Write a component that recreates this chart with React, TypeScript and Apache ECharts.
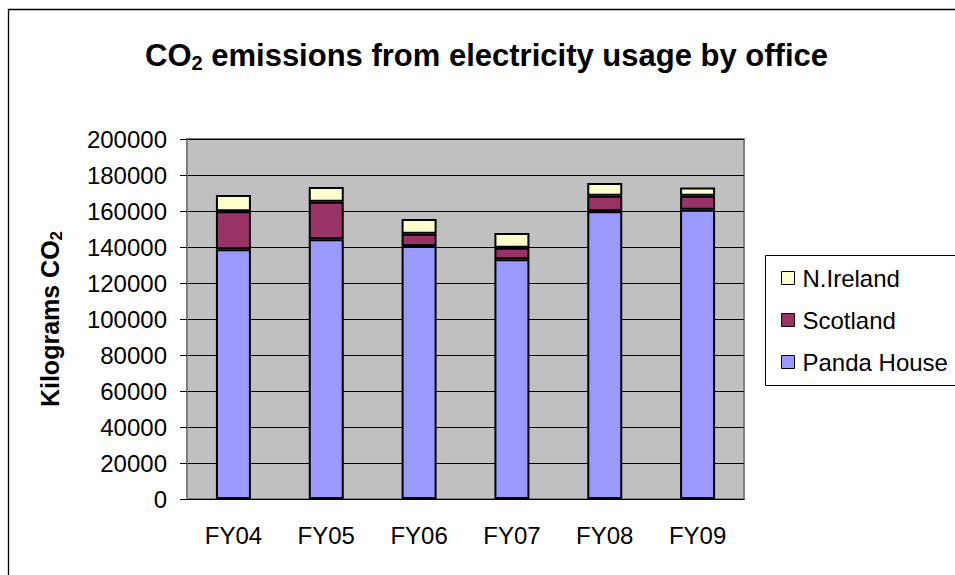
import React, { useEffect, useRef } from "react";
import * as echarts from "echarts";

const categories = ["FY04", "FY05", "FY06", "FY07", "FY08", "FY09"];
const pandaHouse = [138700, 144300, 140600, 133200, 159800, 160700];
const scotland = [21100, 20900, 6800, 6400, 8700, 7800];
const nIreland = [9100, 8100, 8200, 8200, 7100, 4600];
const yMin = 0;
const yMax = 200000;
const yInterval = 20000;

const FONT = "'Liberation Sans', Arial, Helvetica, sans-serif";

export default function App() {
  const ref = useRef<HTMLDivElement>(null);
  useEffect(() => {
    if (!ref.current) return;
    const chart = echarts.init(ref.current, undefined, { renderer: "svg" });
    const barBorder = { borderColor: "#000", borderWidth: 2 };
    chart.setOption({
      animation: false,
      backgroundColor: "#fff",
      textStyle: { fontFamily: FONT },
      title: {
        left: 140,
        top: 32,
        text: "{b|CO}{s|2}{b| emissions from electricity usage by office}",
        textStyle: {
          rich: {
            b: { fontFamily: FONT, fontSize: 31, fontWeight: "bold", color: "#000", lineHeight: 36 },
            s: { fontFamily: FONT, fontSize: 20, fontWeight: "bold", color: "#000", lineHeight: 20, verticalAlign: "bottom" },
          },
        },
      },
      graphic: [
        {
          type: "rect",
          shape: { x: 8.5, y: 9.5, width: 1200, height: 1200 },
          style: { fill: "none", stroke: "#000", lineWidth: 1.3 },
          silent: true,
          z: -1,
        },
        {
          type: "rect",
          shape: { x: 765.5, y: 255.5, width: 300, height: 130 },
          style: { fill: "#fff", stroke: "#000", lineWidth: 1 },
          silent: true,
          z: -1,
        },
      ],
      legend: {
        orient: "vertical",
        left: 776,
        top: 261,
        itemWidth: 13,
        itemHeight: 13,
        itemGap: 18,
        icon: "rect",
        data: ["N.Ireland", "Scotland", "Panda House"],
        itemStyle: { borderColor: "#000", borderWidth: 1 },
        textStyle: { fontFamily: FONT, fontSize: 24, color: "#000", padding: [0, 0, 0, 3] },
      },
      grid: {
        left: 187,
        top: 139,
        width: 557,
        height: 360,
        show: true,
        backgroundColor: "#C0C0C0",
        borderColor: "#808080",
        borderWidth: 2,
      },
      xAxis: {
        type: "category",
        data: categories,
        axisLine: { lineStyle: { color: "#000", width: 1 } },
        axisTick: { length: 7, lineStyle: { color: "#000" } },
        axisLabel: { fontFamily: FONT, fontSize: 24, color: "#000", margin: 24 },
      },
      yAxis: {
        type: "value",
        min: yMin,
        max: yMax,
        interval: yInterval,
        name: "{b|Kilograms CO}{s|2}",
        nameLocation: "middle",
        nameGap: 122,
        nameRotate: 90,
        nameTextStyle: {
          rich: {
            b: { fontFamily: FONT, fontSize: 25, fontWeight: "bold", color: "#000", lineHeight: 30 },
            s: { fontFamily: FONT, fontSize: 17, fontWeight: "bold", color: "#000", lineHeight: 17, verticalAlign: "bottom" },
          },
        },
        axisLine: { show: true, lineStyle: { color: "#808080", width: 2 } },
        axisTick: { show: true, length: 7, lineStyle: { color: "#000" } },
        axisLabel: {
          fontFamily: FONT,
          fontSize: 24,
          color: "#000",
          margin: 20,
          formatter: (v: number) => String(v),
        },
        splitLine: { show: true, lineStyle: { color: "#000", width: 1 } },
      },
      series: [
        {
          name: "Panda House",
          type: "bar",
          stack: "total",
          barWidth: 35,
          data: pandaHouse,
          itemStyle: { color: "#9999FF", ...barBorder },
        },
        {
          name: "Scotland",
          type: "bar",
          stack: "total",
          barWidth: 35,
          data: scotland,
          itemStyle: { color: "#993366", ...barBorder },
        },
        {
          name: "N.Ireland",
          type: "bar",
          stack: "total",
          barWidth: 35,
          data: nIreland,
          itemStyle: { color: "#FFFFCC", ...barBorder },
        },
      ],
    });
    return () => chart.dispose();
  }, []);
  return (
    <div
      ref={ref}
      style={{ position: "absolute", left: 0, top: 0, width: 955, height: 575 }}
    />
  );
}
